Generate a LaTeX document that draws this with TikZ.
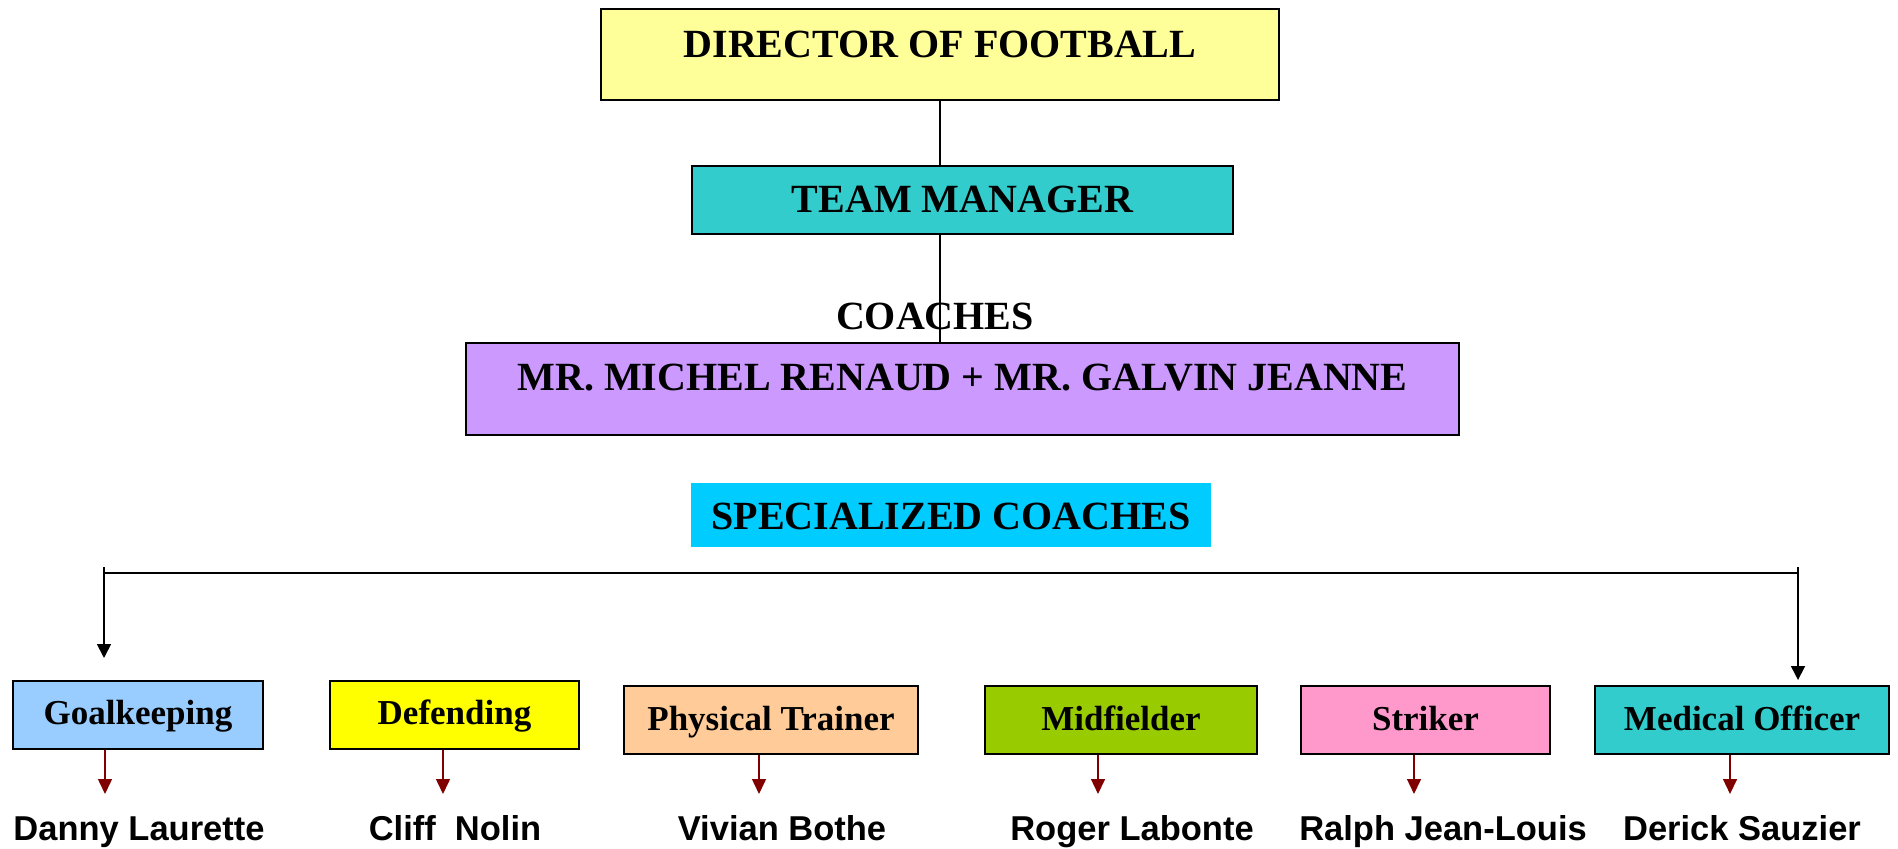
\documentclass[tikz,border=0pt]{standalone}
\usepackage{fontspec}
\setmainfont{Liberation Serif}
\newfontfamily\arialfont{Liberation Sans}
\usetikzlibrary{arrows.meta}
\definecolor{dirY}{HTML}{FFFF99}
\definecolor{tealc}{HTML}{33CCCC}
\definecolor{lilac}{HTML}{CC99FF}
\definecolor{skyc}{HTML}{00CCFF}
\definecolor{gkc}{HTML}{99CCFF}
\definecolor{defc}{HTML}{FFFF00}
\definecolor{ptc}{HTML}{FFCC99}
\definecolor{midc}{HTML}{99CC00}
\definecolor{strc}{HTML}{FF99CC}
\definecolor{darkred}{HTML}{800000}
\begin{document}
\begin{tikzpicture}[x=0.5pt,y=-0.5pt,
  box/.style={draw=black,line width=1pt,inner sep=0pt,text depth=0pt,
    font=\bfseries\fontsize{20}{24}\selectfont},
  subbox/.style={box,font=\bfseries\fontsize{17.5}{21}\selectfont,minimum height=34pt},
  person/.style={anchor=base,inner sep=0pt,font=\arialfont\bfseries\fontsize{17.25}{20}\selectfont},
  conn/.style={line width=0.75pt,draw=black},
  blk/.style={line width=0.9pt,draw=black,-{Triangle[width=7pt,length=7pt]}},
  redarr/.style={line width=0.75pt,draw=darkred,-{Triangle[width=7pt,length=7.5pt,fill=darkred]}}]
\useasboundingbox (0,0) rectangle (1898,849);

% top hierarchy
\node[box,fill=dirY,minimum width=339pt,minimum height=45.5pt,text height=3.5pt] (dir) at (940,54.5) {DIRECTOR OF FOOTBALL};
\node[box,fill=tealc,minimum width=270.5pt,minimum height=34pt,text height=13pt] (tm) at (962.5,200) {TEAM MANAGER};
\node[anchor=base,inner sep=0pt,font=\bfseries\fontsize{20}{24}\selectfont] (colabel) at (935,330) {COACHES};
\node[box,fill=lilac,minimum width=496.5pt,minimum height=46pt,text height=2pt] (co) at (962.5,389) {MR. MICHEL RENAUD + MR. GALVIN JEANNE};
\node[box,draw=none,fill=skyc,minimum width=260pt,minimum height=32pt,text height=14pt] (spec) at (951,515) {SPECIALIZED COACHES};

\draw[conn] (dir.south) -- (dir.south |- tm.north);
\draw[conn] (dir.south |- tm.south) -- (dir.south |- co.north);

% specialised coaches
\node[subbox,fill=gkc,minimum width=125pt,text height=9pt] (gk) at (138,715) {Goalkeeping};
\node[subbox,fill=defc,minimum width=124.5pt,text height=9pt] (def) at (454.5,715) {Defending};
\node[subbox,fill=ptc,minimum width=147pt,text height=10pt] (pt) at (771,720) {Physical Trainer};
\node[subbox,fill=midc,minimum width=136pt,text height=10pt] (mid) at (1121,720) {Midfielder};
\node[subbox,fill=strc,minimum width=124.5pt,text height=10pt] (str) at (1425.5,720) {Striker};
\node[subbox,fill=tealc,minimum width=147pt,text height=10pt] (med) at (1742,720) {Medical Officer};

% bracket
\coordinate (bl) at (104,567);
\coordinate (br) at (1798,567);
\coordinate (hl) at (104,573);
\coordinate (hr) at (1798,573);
\coordinate (gkin) at (104,658);
\coordinate (medin) at (1798,680);
\draw[conn,line width=0.9pt] (hl) -- (hr);
\draw[blk] (bl) -- (gkin);
\draw[blk] (br) -- (medin);

% names
\node[person] (n1) at (139,840) {Danny Laurette};
\node[person] (n2) at (455,840) {Cliff\ \ Nolin};
\node[person] (n3) at (782,840) {Vivian Bothe};
\node[person] (n4) at (1132,840) {Roger Labonte};
\node[person] (n5) at (1443,840) {Ralph Jean-Louis};
\node[person] (n6) at (1742,840) {Derick Sauzier};

% red arrows
\foreach \n/\x in {gk/105, def/443, pt/759, mid/1098, str/1414, med/1730} {
  \coordinate (t-\n) at (\x,794);
  \draw[redarr] (\n.south -| t-\n) -- (t-\n);
}
\end{tikzpicture}
\end{document}
